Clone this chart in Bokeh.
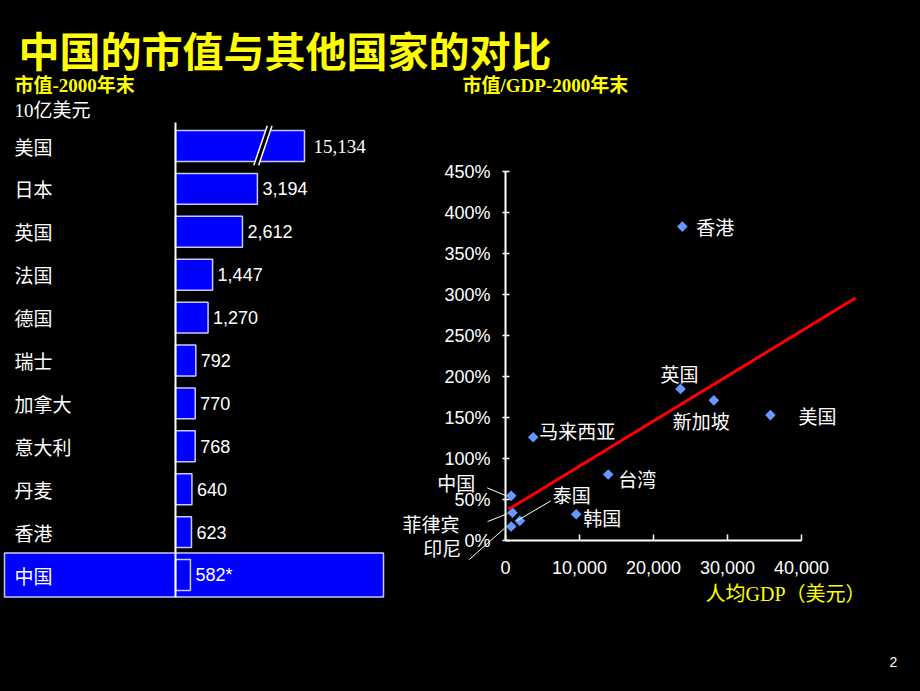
import math
from bokeh.plotting import figure
from bokeh.layouts import column, row
from bokeh.models import (Range1d, ColumnDataSource, LabelSet, Label,
                          FixedTicker, NumeralTickFormatter)
from bokeh.core.properties import value
from bokeh.embed import file_html
from bokeh.resources import INLINE

# ---------------- data ----------------
countries = ["美国", "日本", "英国", "法国", "德国", "瑞士", "加拿大", "意大利", "丹麦", "香港", "中国"]
market_cap = [15134, 3194, 2612, 1447, 1270, 792, 770, 768, 640, 623, 582]
cap_labels = ["15,134", "3,194", "2,612", "1,447", "1,270", "792", "770", "768", "640", "623", "582*"]
bar_break_at = 5030  # displayed length of the broken (US) bar

sc_names = ["香港", "英国", "新加坡", "美国", "马来西亚", "台湾", "中国", "泰国", "菲律宾", "印尼", "韩国"]
gdp_per_capita = [23900, 23650, 28150, 35800, 3740, 13880, 770, 1940, 950, 770, 9550]
cap_to_gdp = [3.83, 1.85, 1.71, 1.53, 1.26, 0.805, 0.545, 0.24, 0.34, 0.17, 0.32]
trend_x = [400, 47300]
trend_y = [0.38, 2.96]
x_ticks = [0, 10000, 20000, 30000, 40000]
y_ticks = [0, 0.5, 1.0, 1.5, 2.0, 2.5, 3.0, 3.5, 4.0, 4.5]

# ---------------- styles ----------------
CJK = "Noto Sans CJK SC"
SERIF_CJK = "Liberation Serif, Noto Sans CJK SC"
SANS = "Liberation Sans"
YELLOW = "#FFFF00"
BLUE = "#0000FF"
BAR_LINE = "#C8C8FF"
MARK = "#6699FF"
BG = {"background-color": "black"}


def make_fig(w, h, xr, yr):
    p = figure(width=w, height=h, x_range=xr, y_range=yr,
               output_backend="svg", toolbar_location=None,
               min_border=0, min_border_left=0, min_border_right=0,
               min_border_top=0, min_border_bottom=0, styles=BG)
    p.background_fill_color = "black"
    p.border_fill_color = "black"
    p.outline_line_color = None
    p.xgrid.visible = False
    p.ygrid.visible = False
    return p


# ---------------- header ----------------
top = make_fig(920, 120, Range1d(0, 920), Range1d(120, 0))
top.axis.visible = False
top.add_layout(Label(x=18, y=48, text="中国的市值与其他国家的对比", text_color=YELLOW,
                     text_font=CJK, text_font_size="41px", text_font_style="bold",
                     text_baseline="middle"))
top.add_layout(Label(x=14, y=85, text="市值-2000年末", text_color=YELLOW,
                     text_font=SERIF_CJK, text_font_size="19px", text_font_style="bold",
                     text_baseline="middle"))
top.add_layout(Label(x=14, y=110, text="10亿美元", text_color="white",
                     text_font=SERIF_CJK, text_font_size="19px",
                     text_baseline="middle"))
top.add_layout(Label(x=462, y=85, text="市值/GDP-2000年末", text_color=YELLOW,
                     text_font=SERIF_CJK, text_font_size="19px", text_font_style="bold",
                     text_baseline="middle"))

# ---------------- bar chart ----------------
n = len(countries)
BW, BH = 400, 571
UPP = 39.0          # data units per pixel
ZERO_PX = 175       # pixel position of the value axis
ROW_PX = 42.9       # row pitch
FIRST_ROW_PX = 25.5 # centre of first row from the top of this panel
y_top = 0.5 - FIRST_ROW_PX / ROW_PX
bar = make_fig(BW, BH, Range1d(-ZERO_PX * UPP, (BW - ZERO_PX) * UPP),
               Range1d(y_top + BH / ROW_PX, y_top))
bar.axis.visible = False

ys = [i + 0.5 for i in range(n)]
disp = [min(v, bar_break_at) for v in market_cap]

# highlight row for China
ci = countries.index("中国")
bar.hbar(y=[ys[ci]], left=[(4 - ZERO_PX) * UPP], right=[(383 - ZERO_PX) * UPP], height=1.03,
         fill_color=BLUE, line_color=BAR_LINE, line_width=1.5)

src = ColumnDataSource(dict(y=ys, v=disp, name=countries, lab=cap_labels))
bar.hbar(y="y", left=0, right="v", height=0.72, source=src,
         fill_color=BLUE, line_color=BAR_LINE, line_width=1.5)

# break mark on the US bar
bx = 0.678 * bar_break_at
g = 2.4 * UPP
s = 6.7 * UPP
yt, yb = 0.03, 0.95
bar.patch([bx - g + s, bx + g + s, bx + g - s, bx - g - s], [yt, yt, yb, yb],
          fill_color="black", line_color="black")
bar.segment(x0=[bx - g - s, bx + g - s], y0=[yb, yb], x1=[bx - g + s, bx + g + s], y1=[yt, yt],
            line_color="white", line_width=1.5)

# value axis line
bar.segment(x0=[0], y0=[-0.05], x1=[0], y1=[n + 0.02], line_color="white", line_width=2)

bar.text(x=0, y="y", text="name", source=src, x_offset=-161,
         text_color="white", text_font=value(CJK), text_font_size="19px",
         text_align="left", text_baseline="middle")

src_us = ColumnDataSource(dict(y=ys[:1], v=disp[:1], lab=cap_labels[:1]))
src_rest = ColumnDataSource(dict(y=ys[1:], v=disp[1:], lab=cap_labels[1:]))
bar.text(x="v", y="y", text="lab", source=src_us, x_offset=9,
         text_color="white", text_font=value("Liberation Serif"), text_font_size="19px",
         text_align="left", text_baseline="middle")
bar.text(x="v", y="y", text="lab", source=src_rest, x_offset=5,
         text_color="white", text_font=value(SANS), text_font_size="18px",
         text_align="left", text_baseline="middle")

# ---------------- scatter ----------------
SW, SH = 520, 571
SX0, SY0 = 505 - 400, 540 - 120     # origin inside this panel (px from left / top)
SPX = 50000 / 370                   # data units per px (x)
SPY = 4.6 / 377                     # data units per px (y)


def dx(px):
    return px * SPX


def dy(py_down):
    return -py_down * SPY


sc = make_fig(SW, SH, Range1d(-SX0 * SPX, (SW - SX0) * SPX),
              Range1d(-(SH - SY0) * SPY, SY0 * SPY))

for ax in (sc.xaxis[0], sc.yaxis[0]):
    ax.fixed_location = 0
    ax.axis_line_color = "white"
    ax.axis_line_width = 2
    ax.major_tick_line_color = "white"
    ax.major_tick_line_width = 1.5
    ax.minor_tick_line_color = None
    ax.major_label_text_color = "white"
    ax.major_label_text_font = SANS
    ax.major_label_text_font_size = "18px"

sc.xaxis.bounds = (0, 40000)
sc.xaxis.ticker = FixedTicker(ticks=x_ticks)
sc.xaxis.formatter = NumeralTickFormatter(format="0,0")
sc.xaxis.major_tick_in = 6
sc.xaxis.major_tick_out = 0
sc.xaxis.major_label_standoff = 20

sc.yaxis.bounds = (0, 4.5)
sc.yaxis.ticker = FixedTicker(ticks=y_ticks)
sc.yaxis.formatter = NumeralTickFormatter(format="0%")
sc.yaxis.major_tick_in = 4
sc.yaxis.major_tick_out = 3
sc.yaxis.major_label_standoff = 12

sc.scatter(gdp_per_capita, cap_to_gdp, marker="square", angle=math.pi / 4, size=7.5,
           fill_color=MARK, line_color=None)
sc.line(trend_x, trend_y, line_color="red", line_width=3)

# label placement (pixel offsets, screen-down positive)
lab_dx = [14, -20, -41, 28, 6, 10, -74, 33, -110, -88, 7]
lab_dy = [0, -15, 20, 0, -7, 4, -13, -26, 11, 21, 3]
lsrc = ColumnDataSource(dict(x=gdp_per_capita, y=cap_to_gdp, t=sc_names,
                             xo=lab_dx, yo=[-v for v in lab_dy]))
sc.add_layout(LabelSet(x="x", y="y", text="t", source=lsrc, x_offset="xo", y_offset="yo",
                       text_color="white", text_font=value(CJK), text_font_size="19px",
                       text_align="left", text_baseline="middle"))

# leader lines (pixel offsets from the point)
leaders = {"中国": (-24, -8, -5, 0), "泰国": (-3, 0, 31, -20),
           "菲律宾": (-25, 9, -5, 1), "印尼": (-42, 33, -7, 2)}
lx0, ly0, lx1, ly1 = [], [], [], []
for nm, (a, b, c, d) in leaders.items():
    k = sc_names.index(nm)
    x0, y0 = gdp_per_capita[k], cap_to_gdp[k]
    lx0.append(x0 + dx(a)); ly0.append(y0 + dy(b))
    lx1.append(x0 + dx(c)); ly1.append(y0 + dy(d))
sc.segment(x0=lx0, y0=ly0, x1=lx1, y1=ly1, line_color="white", line_width=1)

sc.add_layout(Label(x=dx(705 - 505), y=dy(593 - 540), text="人均GDP（美元）",
                    text_color=YELLOW, text_font=SERIF_CJK, text_font_size="20px",
                    text_align="left", text_baseline="middle"))
sc.add_layout(Label(x=dx(893 - 505), y=dy(661 - 540), text="2",
                    text_color="white", text_font=SANS, text_font_size="14px",
                    text_align="center", text_baseline="middle"))

layout = column(top, row(bar, sc, styles=BG), styles=BG)
open("out.html", "w").write(file_html(layout, INLINE))
